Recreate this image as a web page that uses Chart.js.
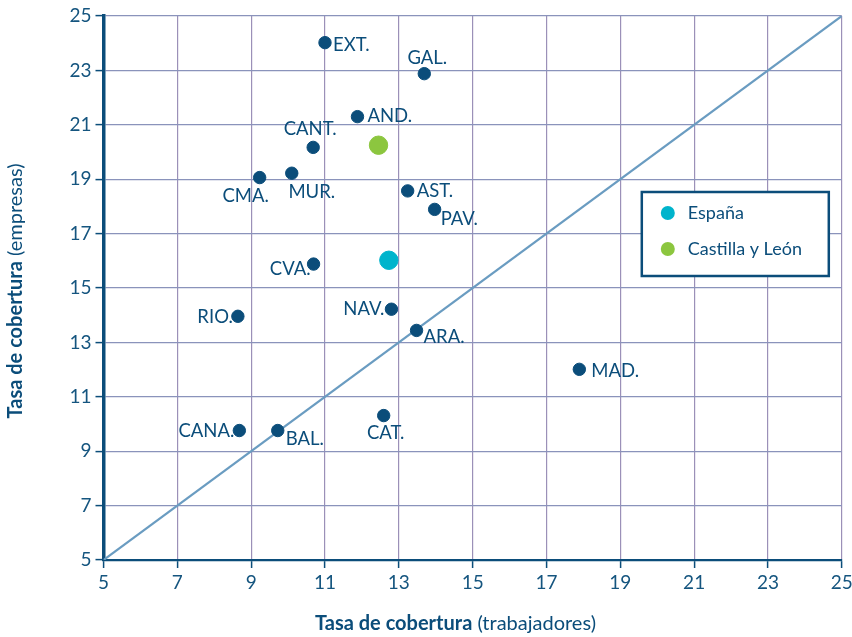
<!DOCTYPE html>
<html><head><meta charset="utf-8">
<script src="https://cdn.jsdelivr.net/npm/chart.js@4.4.0/dist/chart.umd.min.js"></script>
<style>html,body{margin:0;padding:0;background:#fff}#wrap{width:852px;height:637px}</style>
</head><body><div id="wrap"><canvas id="c" width="852" height="637"></canvas></div>
<script>
// ---- data ----
const regions = ['EXT.','GAL.','AND.','CANT.','MUR.','CMA.','AST.','PAV.','CVA.','NAV.','RIO.','ARA.','MAD.','CAT.','CANA.','BAL.'];
const coberturaTrabajadores = [11.00,13.69,11.88,10.68,10.10,9.23,13.24,13.97,10.69,12.80,8.64,13.48,17.89,12.59,8.68,9.72];
const coberturaEmpresas     = [24.02,22.88,21.30,20.17,19.22,19.06,18.57,17.89,15.88,14.22,13.96,13.44,12.01,10.31,9.76,9.76];
const espanaTrabajadores = [12.73];
const espanaEmpresas = [16.02];
const cylTrabajadores = [12.45];
const cylEmpresas = [20.25];
const highlightLabels = ['España','Castilla y León'];
const axisTicks = [5,7,9,11,13,15,17,19,21,23,25];
const diagonalEnds = [5,25];
const xTitle = ['Tasa de cobertura',' (trabajadores)'];
const yTitle = ['Tasa de cobertura',' (empresas)'];

// ---- label placement (styling, not data) ----
const labelOffsets = {
  'EXT.':[8,2,'left'], 'GAL.':[3,-16,'center'], 'AND.':[10,-1,'left'], 'CANT.':[-3,-18,'center'],
  'MUR.':[20,19,'center'], 'CMA.':[-14,18,'center'], 'AST.':[9,0,'left'], 'PAV.':[6,10,'left'],
  'CVA.':[-3,5,'right'], 'NAV.':[-7,0,'right'], 'RIO.':[-5,1,'right'], 'ARA.':[7,7,'left'],
  'MAD.':[12,2,'left'], 'CAT.':[2,17,'center'], 'CANA.':[-5,1,'right'], 'BAL.':[8,9,'left']
};

const DARK = '#0b4d7a';
const TXT = '#15557f';
const FONT = 'Lato';

const labelPlugin = {
  id:'pointLabels',
  afterDatasetsDraw(chart){
    const meta = chart.getDatasetMeta(0);
    const ctx = chart.ctx;
    ctx.save();
    ctx.font = '18.5px ' + FONT;
    ctx.fillStyle = DARK;
    ctx.textBaseline = 'middle';
    meta.data.forEach((pt,i)=>{
      const o = labelOffsets[regions[i]] || [8,0,'left'];
      ctx.textAlign = o[2];
      ctx.fillText(regions[i], pt.x + o[0], pt.y + o[1]);
    });
    ctx.restore();
  }
};

function drawMixed(ctx, parts, cx, cy){
  ctx.font = 'bold 20px ' + FONT;
  const w1 = ctx.measureText(parts[0]).width;
  ctx.font = '20px ' + FONT;
  const w2 = ctx.measureText(parts[1]).width;
  const start = cx - (w1+w2)/2;
  ctx.textAlign = 'left';
  ctx.textBaseline = 'middle';
  ctx.font = 'bold 20px ' + FONT;
  ctx.fillText(parts[0], start, cy);
  ctx.font = '20px ' + FONT;
  ctx.fillText(parts[1], start + w1, cy);
}

const titlePlugin = {
  id:'axisTitles',
  afterDraw(chart){
    const ctx = chart.ctx;
    const ca = chart.chartArea;
    ctx.save();
    ctx.fillStyle = DARK;
    drawMixed(ctx, xTitle, ca.left + 352, chart.height - 13);
    ctx.translate(16, (ca.top + ca.bottom)/2 + 3);
    ctx.rotate(-Math.PI/2);
    drawMixed(ctx, yTitle, 0, 0);
    ctx.restore();
  }
};

const legendPlugin = {
  id:'boxLegend',
  afterDraw(chart){
    const ctx = chart.ctx;
    const ca = chart.chartArea;
    const bx = ca.right - 200, by = ca.top + 176, bw = 187, bh = 84;
    ctx.save();
    ctx.fillStyle = '#fff';
    ctx.fillRect(bx, by, bw, bh);
    ctx.strokeStyle = DARK;
    ctx.lineWidth = 2.5;
    ctx.strokeRect(bx, by, bw, bh);
    const items = [chart.data.datasets[1], chart.data.datasets[2]];
    items.forEach((ds,i)=>{
      const y = by + 21 + i*36;
      ctx.beginPath();
      ctx.arc(bx + 26, y, 7, 0, Math.PI*2);
      ctx.fillStyle = ds.backgroundColor;
      ctx.fill();
      ctx.fillStyle = DARK;
      ctx.font = '18px ' + FONT;
      ctx.textAlign = 'left';
      ctx.textBaseline = 'middle';
      ctx.fillText(ds.label, bx + 46, y);
    });
    ctx.restore();
  }
};

const toPts = (xs, ys) => xs.map((x,i)=>({x, y: ys[i]}));

new Chart(document.getElementById('c'), {
  type:'scatter',
  data:{
    datasets:[
      {label:'Comunidades', data: toPts(coberturaTrabajadores, coberturaEmpresas), backgroundColor: DARK, borderColor: DARK, pointRadius:6.2, pointHoverRadius:6.2, order:1},
      {label: highlightLabels[0], data: toPts(espanaTrabajadores, espanaEmpresas), backgroundColor:'#00b4cc', borderColor:'#00b4cc', pointRadius:9.2, order:0},
      {label: highlightLabels[1], data: toPts(cylTrabajadores, cylEmpresas), backgroundColor:'#8cc63f', borderColor:'#8cc63f', pointRadius:9.2, order:0},
      {type:'line', label:'diagonal', data: toPts(diagonalEnds, diagonalEnds), borderColor:'#6a9cc1', borderWidth:2.2, pointRadius:0, fill:false, order:5}
    ]
  },
  options:{
    responsive:false,
    animation:false,
    events:[],
    layout:{padding:{top:16, right:9, left:0, bottom:0}},
    plugins:{legend:{display:false}, tooltip:{enabled:false}},
    scales:{
      x:{
        type:'linear', min:5, max:25,
        afterBuildTicks:(s)=>{s.ticks = axisTicks.map(v=>({value:v}));},
        afterFit:(s)=>{s.height = 77; s.paddingRight = 0; s.paddingLeft = 0;},
        grid:{color:'#9b90b8', lineWidth:1.2, tickColor:DARK, tickLength:8, tickWidth:1.5},
        border:{color:DARK, width:2.2},
        ticks:{color:TXT, font:{family:FONT, size:19}, padding:3, autoSkip:false, maxRotation:0}
      },
      y:{
        type:'linear', min:5, max:25,
        afterBuildTicks:(s)=>{s.ticks = axisTicks.map(v=>({value:v}));},
        afterFit:(s)=>{s.width = 103.5; s.paddingTop = 0; s.paddingBottom = 0;},
        grid:{color:'#8a93bb', lineWidth:1.2, tickColor:DARK, tickLength:8, tickWidth:1.5},
        border:{color:DARK, width:3.5},
        ticks:{color:TXT, font:{family:FONT, size:19}, padding:4, autoSkip:false}
      }
    }
  },
  plugins:[labelPlugin, titlePlugin, legendPlugin]
});
</script>
</body></html>
